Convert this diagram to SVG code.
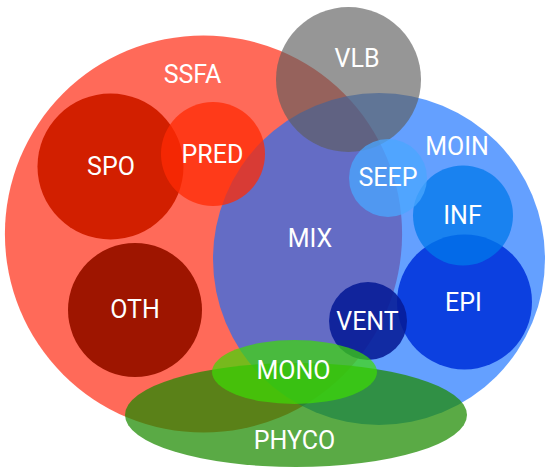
<svg xmlns="http://www.w3.org/2000/svg" width="546" height="467" viewBox="0 0 546 467">
<style>
text{font-family:Roboto,"Liberation Sans",sans-serif;font-size:25px;fill:#ffffff;text-anchor:middle}
</style>
<rect width="546" height="467" fill="#ffffff"/>
<g id="SSFA"><circle cx="203.5" cy="234" r="198.6" fill="rgb(255,26,0)" fill-opacity="0.65"/><text x="192.5" y="83">SSFA</text></g>
<g id="MOIN"><circle cx="379" cy="259" r="166" fill="rgb(17,109,255)" fill-opacity="0.65"/><text x="457" y="155">MOIN</text></g>
<g id="VLB"><circle cx="348.5" cy="79.5" r="72.5" fill="rgb(94,94,94)" fill-opacity="0.65"/><text x="357" y="67">VLB</text></g>
<g id="SPO"><circle cx="110.5" cy="166.5" r="73" fill="#d21f00"/><text x="111" y="175">SPO</text></g>
<g id="PRED"><circle cx="213" cy="154" r="52" fill="rgb(255,43,4)" fill-opacity="0.75"/><text x="212.5" y="163">PRED</text></g>
<g id="OTH"><circle cx="135" cy="310" r="67" fill="#9e1500"/><text x="135" y="318">OTH</text></g>
<g id="EPI"><circle cx="464.5" cy="302" r="67.5" fill="rgb(0,50,220)" fill-opacity="0.88"/><text x="463.5" y="311">EPI</text></g>
<g id="INF"><circle cx="463" cy="215.5" r="50" fill="rgb(0,120,235)" fill-opacity="0.75"/><text x="462.5" y="224">INF</text></g>
<g id="SEEP"><circle cx="388" cy="178" r="39" fill="rgb(73,167,255)" fill-opacity="0.75"/><text x="388" y="186">SEEP</text></g>
<g id="MIX"><text x="310" y="247">MIX</text></g>
<g id="VENT"><circle cx="368" cy="321" r="39" fill="rgb(6,26,150)" fill-opacity="0.88"/><text x="367.5" y="330">VENT</text></g>
<g id="PHYCO"><ellipse cx="296" cy="415" rx="171" ry="52" fill="rgb(29,138,0)" fill-opacity="0.73"/><text x="294.5" y="449">PHYCO</text></g>
<g id="MONO"><ellipse cx="294.5" cy="372" rx="82.5" ry="32" fill="rgb(61,219,4)" fill-opacity="0.7"/><text x="293.5" y="379">MONO</text></g>
<g id="connectors"/>
</svg>
